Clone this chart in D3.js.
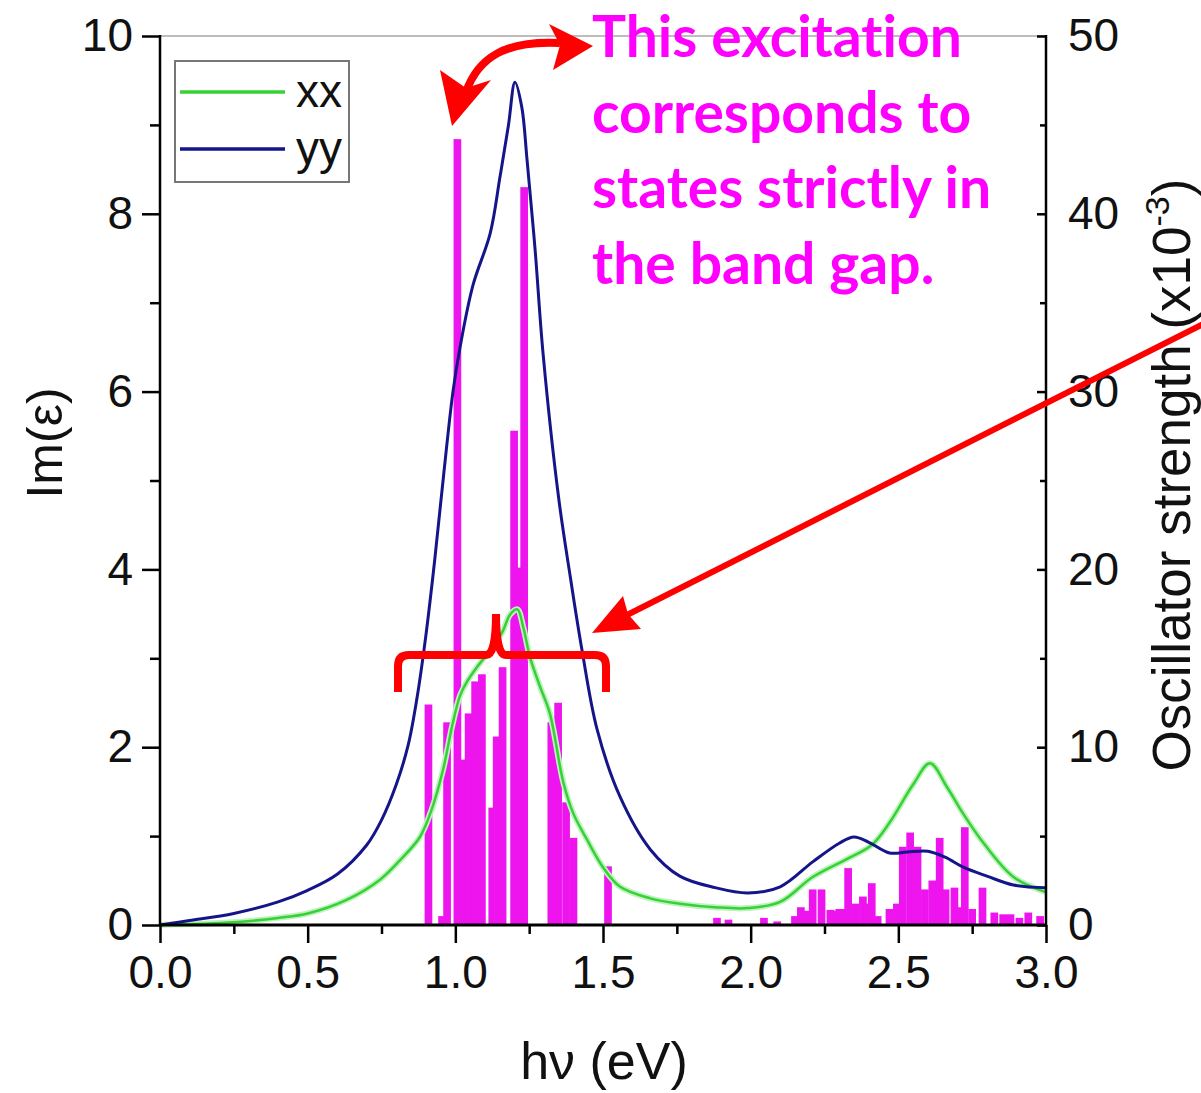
<!DOCTYPE html>
<html>
<head>
<meta charset="utf-8">
<script src="https://cdn.jsdelivr.net/npm/d3@7"></script>
<style>
  body { margin: 0; background: #fff; }
  svg { display: block; }
  .note { font-feature-settings: "liga" 0, "clig" 0; font-variant-ligatures: none; }
</style>
</head>
<body>
<div id="chart"></div>
<script>
// Im(eps) spectra (left axis) with oscillator strength sticks (right axis)

// --- data ---
const xxEnergy = [0, 0.25, 0.4, 0.5, 0.63, 0.745, 0.813, 0.88, 0.92, 0.958, 0.99, 1.016, 1.04, 1.073, 1.128, 1.16, 1.185, 1.21, 1.23, 1.253, 1.287, 1.32, 1.366, 1.4, 1.446, 1.5, 1.558, 1.66, 1.76, 1.88, 1.99, 2.1, 2.21, 2.33, 2.41, 2.47, 2.55, 2.607, 2.665, 2.72, 2.78, 2.89, 3.0];
const xxValue = [0, 0.03, 0.08, 0.13, 0.28, 0.51, 0.73, 0.99, 1.3, 1.74, 2.25, 2.58, 2.74, 2.9, 3.13, 3.3, 3.49, 3.55, 3.35, 3.01, 2.68, 2.38, 1.6, 1.25, 0.96, 0.65, 0.43, 0.3, 0.24, 0.2, 0.19, 0.26, 0.54, 0.75, 0.9, 1.15, 1.58, 1.82, 1.55, 1.25, 0.96, 0.54, 0.37];

const yyEnergy = [0, 0.1, 0.25, 0.4, 0.5, 0.6, 0.7, 0.75, 0.8, 0.84, 0.87, 0.9, 0.93, 0.96, 0.992, 1.016, 1.06, 1.118, 1.151, 1.18, 1.202, 1.225, 1.243, 1.27, 1.297, 1.35, 1.39, 1.429, 1.48, 1.558, 1.66, 1.76, 1.88, 1.99, 2.1, 2.21, 2.3, 2.35, 2.4, 2.47, 2.53, 2.6, 2.66, 2.72, 2.8, 2.89, 3.0];
const yyValue = [0, 0.05, 0.13, 0.26, 0.39, 0.57, 0.9, 1.18, 1.58, 2.02, 2.55, 3.25, 4.1, 5.05, 6.0, 6.5, 7.2, 7.78, 8.41, 9.0, 9.48, 9.2, 8.6, 7.6, 6.43, 4.8, 3.9, 3.09, 2.2, 1.44, 0.85, 0.55, 0.42, 0.36, 0.43, 0.71, 0.92, 0.99, 0.93, 0.81, 0.82, 0.83, 0.76, 0.65, 0.55, 0.45, 0.42];

// oscillator strengths (x10^-3)
const barEnergy = [0.909, 0.955, 0.972, 1.007, 1.022, 1.045, 1.067, 1.09, 1.125, 1.14, 1.16, 1.199, 1.216, 1.233, 1.325, 1.348, 1.375, 1.40, 1.517,
  1.886, 1.925, 2.045, 2.09, 2.15, 2.17, 2.19, 2.21, 2.24, 2.27, 2.285, 2.30, 2.32, 2.33, 2.355, 2.38, 2.395, 2.41, 2.43,
  2.47, 2.495, 2.515, 2.54, 2.565, 2.59, 2.615, 2.64, 2.66, 2.69, 2.705, 2.725, 2.75, 2.785, 2.825, 2.855, 2.88, 2.91, 2.94, 2.98];
const barOsc = [12.4, 0.5, 11.4, 44.2, 9.3, 11.9, 13.7, 14.1, 6.6, 10.6, 14.5, 27.8, 20.1, 41.5, 11.4, 12.5, 6.9, 4.9, 3.3,
  0.4, 0.3, 0.4, 0.2, 0.5, 1.0, 0.8, 2.0, 2.0, 0.85, 0.8, 0.9, 0.9, 3.2, 1.2, 1.6, 1.2, 2.35, 0.5,
  0.9, 1.2, 4.4, 5.2, 4.4, 2.0, 2.5, 4.9, 2.0, 2.1, 1.0, 5.5, 0.9, 2.1, 0.7, 0.6, 0.6, 0.4, 0.7, 0.5];

const xMajor = [0, 0.5, 1.0, 1.5, 2.0, 2.5, 3.0];
const xMinor = [0.25, 0.75, 1.25, 1.75, 2.25, 2.75];
const yMajor = [0, 2, 4, 6, 8, 10];
const yMinor = [1, 3, 5, 7, 9];
const y2Major = [0, 10, 20, 30, 40, 50];
const y2Minor = [5, 15, 25, 35, 45];

const seriesNames = ["xx", "yy"];
const noteLines = ["This excitation", "corresponds to", "states strictly in", "the band gap."];

// --- layout ---
const W = 1201, H = 1093;
const plot = { left: 160, right: 1046, top: 36, bottom: 925 };
const axisFont = "'Liberation Sans', Arial, sans-serif";
const green = "#36d136", blue = "#15158a", magenta = "#ee14ee", red = "#ff0000";

const svg = d3.select("#chart").append("svg")
  .attr("width", W)
  .attr("height", H);

const x = d3.scaleLinear().domain([0, 3]).range([plot.left, plot.right]);
const y = d3.scaleLinear().domain([0, 10]).range([plot.bottom, plot.top]);
const y2 = d3.scaleLinear().domain([0, 50]).range([plot.bottom, plot.top]);

// oscillator strength sticks
const barW = 0.026;
svg.append("g")
  .selectAll("rect")
  .data(barEnergy.map((e, i) => ({ e: e, v: barOsc[i] })))
  .join("rect")
  .attr("x", d => x(d.e - barW / 2))
  .attr("width", d => x(d.e + barW / 2) - x(d.e - barW / 2))
  .attr("y", d => y2(d.v))
  .attr("height", d => y2(0) - y2(d.v))
  .attr("fill", magenta);

// spectra
const line = d3.line()
  .x(d => x(d[0]))
  .y(d => y(d[1]))
  .curve(d3.curveCatmullRom.alpha(0.5));

const xxData = xxEnergy.map((e, i) => [e, xxValue[i]]);
const yyData = yyEnergy.map((e, i) => [e, yyValue[i]]);

svg.append("path").datum(xxData).attr("d", line)
  .attr("fill", "none").attr("stroke", "#bff2bf").attr("stroke-width", 6);
svg.append("path").datum(xxData).attr("d", line)
  .attr("fill", "none").attr("stroke", green).attr("stroke-width", 2.5);
svg.append("path").datum(yyData).attr("d", line)
  .attr("fill", "none").attr("stroke", blue).attr("stroke-width", 3);

// frame
svg.append("line")
  .attr("x1", plot.left).attr("x2", plot.right).attr("y1", plot.top).attr("y2", plot.top)
  .attr("stroke", "#bdbdbd").attr("stroke-width", 2);

// axes
function styleAxis(g) {
  g.select(".domain").remove();
  g.selectAll("line").attr("stroke", "#000").attr("stroke-width", 2.5);
  g.selectAll("text").attr("font-family", axisFont).attr("font-size", 46).attr("fill", "#111");
}

svg.append("g")
  .attr("transform", `translate(0,${plot.bottom})`)
  .call(d3.axisBottom(x).tickValues(xMajor).tickSize(18).tickPadding(12).tickFormat(d3.format(".1f")))
  .call(styleAxis);
svg.append("g")
  .attr("transform", `translate(0,${plot.bottom})`)
  .call(d3.axisBottom(x).tickValues(xMinor).tickSize(9).tickFormat(""))
  .call(styleAxis);

svg.append("g")
  .attr("transform", `translate(${plot.left},0)`)
  .call(d3.axisLeft(y).tickValues(yMajor).tickSize(18).tickPadding(9))
  .call(styleAxis);
svg.append("g")
  .attr("transform", `translate(${plot.left},0)`)
  .call(d3.axisLeft(y).tickValues(yMinor).tickSize(10).tickFormat(""))
  .call(styleAxis);

svg.append("g")
  .attr("transform", `translate(${plot.right},0)`)
  .call(d3.axisRight(y2).tickValues(y2Major).tickSize(-9).tickPadding(22))
  .call(styleAxis);
svg.append("g")
  .attr("transform", `translate(${plot.right},0)`)
  .call(d3.axisRight(y2).tickValues(y2Minor).tickSize(-6).tickFormat(""))
  .call(styleAxis);

// axis lines
svg.append("line").attr("x1", plot.left).attr("x2", plot.left).attr("y1", plot.top - 1).attr("y2", plot.bottom + 1)
  .attr("stroke", "#000").attr("stroke-width", 2.5);
svg.append("line").attr("x1", plot.right).attr("x2", plot.right).attr("y1", plot.top - 1).attr("y2", plot.bottom + 1)
  .attr("stroke", "#000").attr("stroke-width", 2.5);
svg.append("line").attr("x1", plot.left).attr("x2", plot.right).attr("y1", plot.bottom).attr("y2", plot.bottom)
  .attr("stroke", "#000").attr("stroke-width", 3);

// axis titles
svg.append("text")
  .attr("transform", "translate(62,443) rotate(-90)")
  .attr("text-anchor", "middle")
  .attr("font-family", axisFont).attr("font-size", 50).attr("fill", "#111")
  .text("Im(ε)");

svg.append("text")
  .attr("x", 604).attr("y", 1079)
  .attr("text-anchor", "middle")
  .attr("font-family", axisFont).attr("font-size", 52).attr("fill", "#111")
  .text("hν (eV)");

const osc = svg.append("text")
  .attr("transform", "translate(1190,475) rotate(-90)")
  .attr("text-anchor", "middle")
  .attr("font-family", axisFont).attr("font-size", 53).attr("fill", "#111");
osc.append("tspan").text("Oscillator strength (x10");
osc.append("tspan").attr("font-size", 34).attr("dy", -21).text("-3");
osc.append("tspan").attr("dy", 21).text(")");

// legend
const legend = svg.append("g");
legend.append("rect")
  .attr("x", 175).attr("y", 61).attr("width", 174).attr("height", 121)
  .attr("fill", "#fff").attr("stroke", "#777").attr("stroke-width", 2);
const legendY = d3.scalePoint().domain(seriesNames).range([92, 149]);
const legendColor = d3.scaleOrdinal().domain(seriesNames).range([green, blue]);
legend.selectAll("line.key")
  .data(seriesNames)
  .join("line")
  .attr("class", "key")
  .attr("x1", 180).attr("x2", 285)
  .attr("y1", d => legendY(d)).attr("y2", d => legendY(d))
  .attr("stroke", d => legendColor(d)).attr("stroke-width", 3.5);
legend.selectAll("text")
  .data(seriesNames)
  .join("text")
  .attr("x", 296)
  .attr("y", d => legendY(d) + 15)
  .attr("font-family", axisFont).attr("font-size", 46).attr("fill", "#111")
  .text(d => d);

// annotation text
svg.append("g")
  .selectAll("text")
  .data(noteLines)
  .join("text")
  .attr("class", "note")
  .attr("x", 592)
  .attr("y", (d, i) => 57 + i * 75.5)
  .attr("font-family", "Lato, 'Open Sans', sans-serif")
  .attr("font-weight", "bold")
  .attr("font-size", 57)
  .attr("fill", "#ff00ff")
  .text(d => d);

// red annotations
const ann = svg.append("g").attr("fill", red).attr("stroke", "none");

// curved double arrow
ann.append("path")
  .attr("d", "M466,92 C478,58 505,40 560,43")
  .attr("fill", "none").attr("stroke", red).attr("stroke-width", 8);
ann.append("path").attr("d", "M452,126 L440,70 L466,88 L491,80 Z");
ann.append("path").attr("d", "M593,46 L549,24 L560,45 L553,70 Z");

// long arrow
ann.append("line")
  .attr("x1", 1205).attr("y1", 323).attr("x2", 625).attr("y2", 616)
  .attr("stroke", red).attr("stroke-width", 6);
ann.append("path").attr("d", "M592,633 L623,596 L628,614 L641,629 Z");

// bracket
ann.append("path")
  .attr("d", "M398,692 L398,666 Q398,655 409,655 L486,655 Q496,655 496,614 Q496,655 506,655 L595,655 Q606,655 606,666 L606,692")
  .attr("fill", "none").attr("stroke", red).attr("stroke-width", 8);
</script>
</body>
</html>
